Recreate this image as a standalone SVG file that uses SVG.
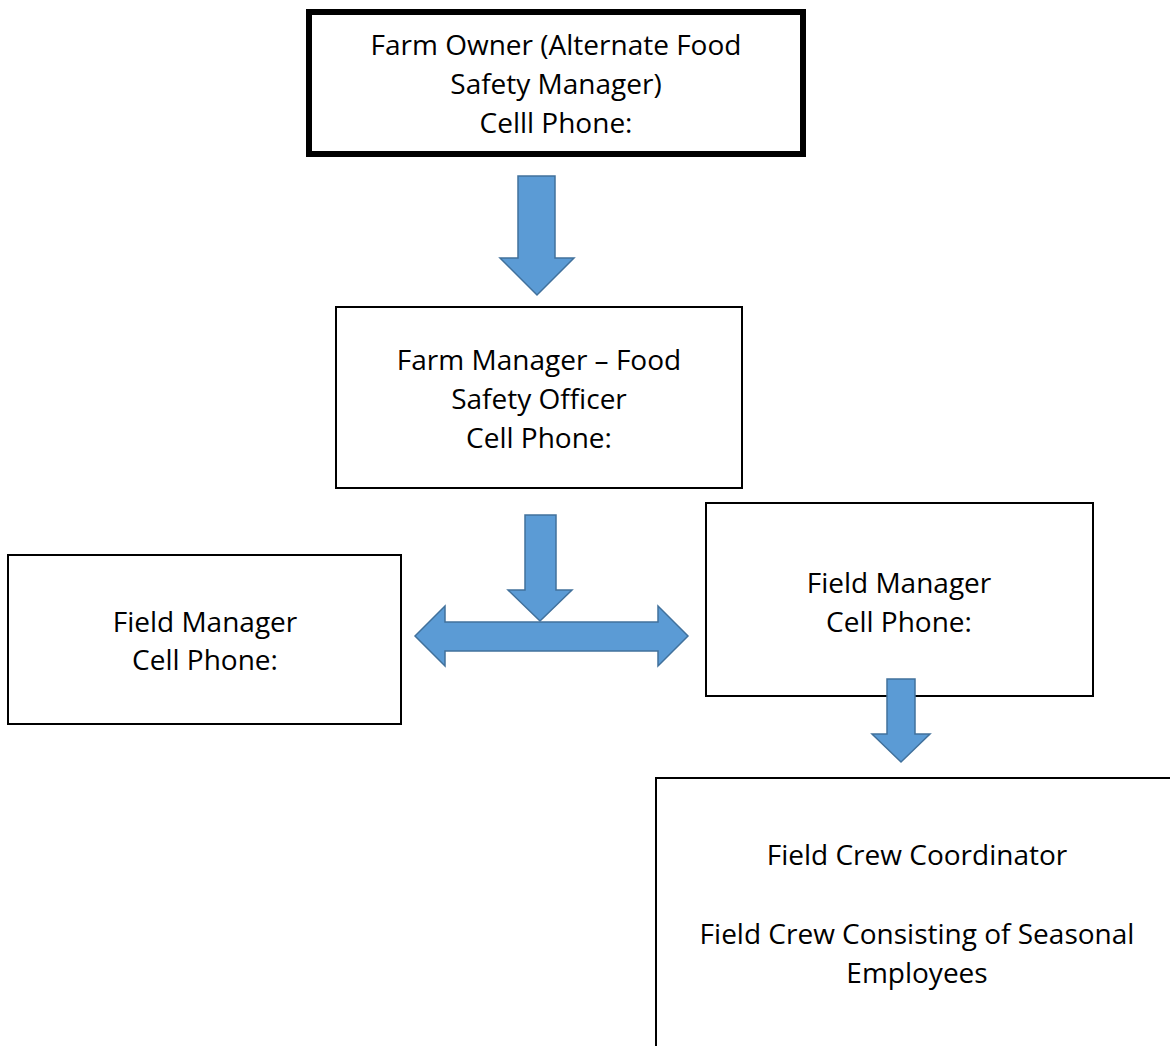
<svg xmlns="http://www.w3.org/2000/svg" width="1170" height="1046" viewBox="0 0 1170 1046">
<style>
.box{fill:#fff;stroke:#000;stroke-width:2}
.thick{stroke-width:6}
.t{font-family:"Open Sans","Noto Sans",sans-serif;font-size:28px;fill:#000;text-anchor:middle}
.arr{fill:#5B9BD5;stroke:#41719C;stroke-width:1.5;stroke-linejoin:miter}
</style>
<rect width="1170" height="1046" fill="#fff"/>
<g id="owner">
<rect class="box thick" x="309" y="12" width="494" height="142"/>
<text class="t" x="556" y="55">Farm Owner (Alternate Food</text>
<text class="t" x="556" y="94">Safety Manager)</text>
<text class="t" x="556" y="133">Celll Phone:</text>
</g>
<g id="farm-manager">
<rect class="box" x="336" y="307" width="406" height="181"/>
<text class="t" x="539" y="370">Farm Manager – Food</text>
<text class="t" x="539" y="409">Safety Officer</text>
<text class="t" x="539" y="448">Cell Phone:</text>
</g>
<g id="field-manager-left">
<rect class="box" x="8" y="555" width="393" height="169"/>
<text class="t" x="205" y="632">Field Manager</text>
<text class="t" x="205" y="670">Cell Phone:</text>
</g>
<g id="field-manager-right">
<rect class="box" x="706" y="503" width="387" height="193"/>
<text class="t" x="899" y="593">Field Manager</text>
<text class="t" x="899" y="632">Cell Phone:</text>
</g>
<g id="field-crew">
<rect class="box" x="656" y="778" width="600" height="400"/>
<text class="t" x="917" y="865">Field Crew Coordinator</text>
<text class="t" x="917" y="944">Field Crew Consisting of Seasonal</text>
<text class="t" x="917" y="983">Employees</text>
</g>
<g id="connectors">
<polygon class="arr" points="518,176 555,176 555,258 574,258 537,295 500,258 518,258"/>
<polygon class="arr" points="525,515 556,515 556,590 572,590 540,621 508,590 525,590"/>
<polygon class="arr" points="415,636 445,606 445,622 658,622 658,606 688,636 658,666 658,651 445,651 445,666"/>
<polygon class="arr" points="887,679 915,679 915,734 930,734 901,762 872,734 887,734"/>
</g>
</svg>
